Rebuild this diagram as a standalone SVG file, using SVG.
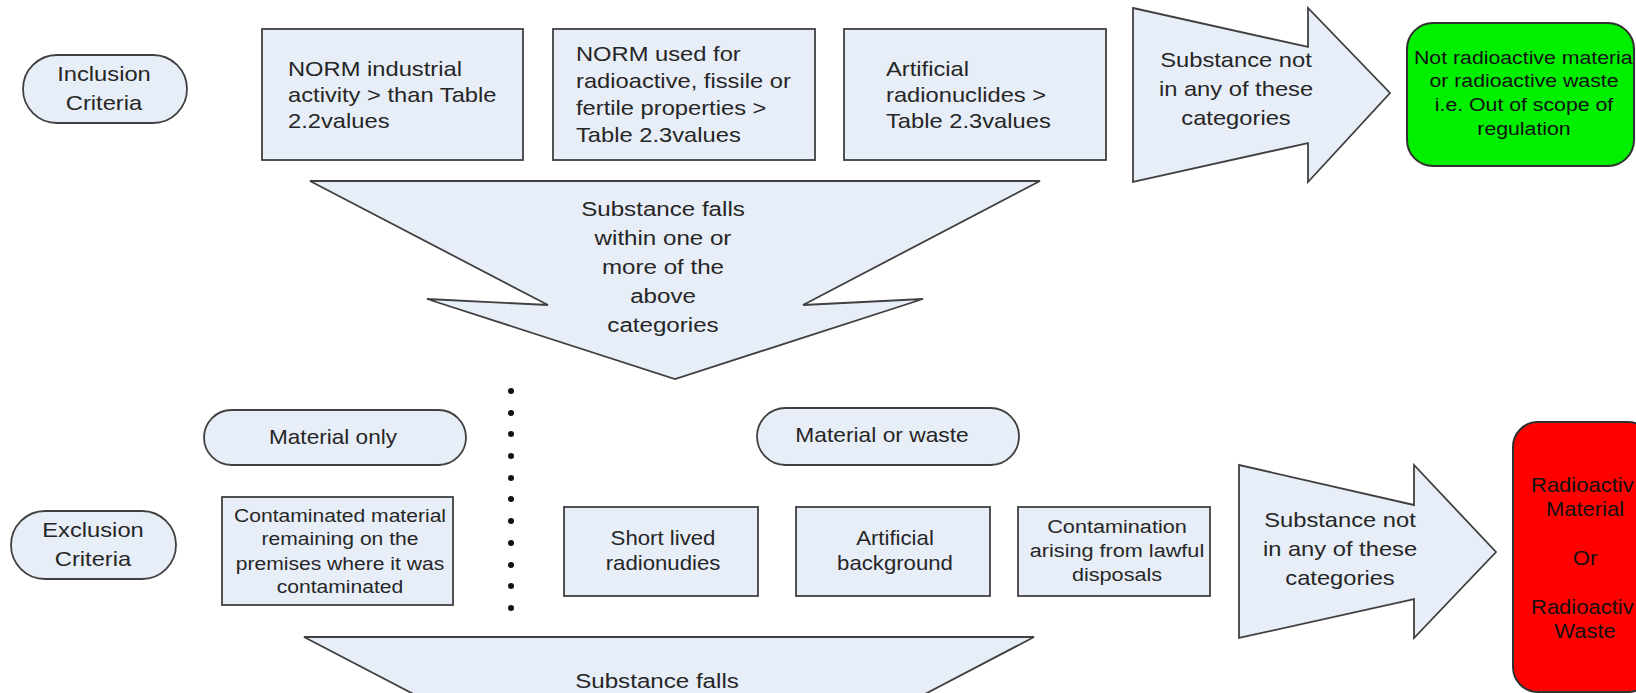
<svg xmlns="http://www.w3.org/2000/svg" width="1636" height="693" viewBox="0 0 1636 693">
<style>
.shape{fill:#e8eef8;stroke:#404040;stroke-width:1.8}
.green{fill:#00f000;stroke:#303030;stroke-width:2}
.red{fill:#ff0000;stroke:#303030;stroke-width:2}
.t{font-family:"Liberation Sans",Arial,sans-serif;font-size:21px;fill:#262626;text-anchor:middle}
.l{text-anchor:start}
.s19{font-size:19px}
.s20{font-size:20px}
.s18{font-size:18.5px}
.dk{fill:#111}
.dot{fill:#111}
</style>
<rect width="1636" height="693" fill="#ffffff"/>

<g id="inclusion-criteria">
<rect class="shape" x="23" y="55" width="164" height="68" rx="34"/>
<text class="t" transform="translate(104 0) scale(1.13 1)"><tspan x="0" y="81">Inclusion</tspan><tspan x="0" y="110">Criteria</tspan></text>
</g>

<g id="norm-industrial">
<rect class="shape" x="262" y="29" width="261" height="131"/>
<text class="t l" transform="translate(288 0) scale(1.13 1)"><tspan x="0" y="76">NORM industrial</tspan><tspan x="0" y="102">activity &gt; than Table</tspan><tspan x="0" y="128">2.2values</tspan></text>
</g>

<g id="norm-used">
<rect class="shape" x="553" y="29" width="262" height="131"/>
<text class="t l" transform="translate(576 0) scale(1.13 1)"><tspan x="0" y="61">NORM used for</tspan><tspan x="0" y="88">radioactive, fissile or</tspan><tspan x="0" y="115">fertile properties &gt;</tspan><tspan x="0" y="142">Table 2.3values</tspan></text>
</g>

<g id="artificial-radionuclides">
<rect class="shape" x="844" y="29" width="262" height="131"/>
<text class="t l" transform="translate(886 0) scale(1.13 1)"><tspan x="0" y="76">Artificial</tspan><tspan x="0" y="102">radionuclides &gt;</tspan><tspan x="0" y="128">Table 2.3values</tspan></text>
</g>

<g id="arrow-not-in-categories-top">
<polygon class="shape" points="1133,8 1308,47 1308,8 1390,93 1308,182 1308,143 1133,182"/>
<text class="t" transform="translate(1236 0) scale(1.13 1)"><tspan x="0" y="67">Substance not</tspan><tspan x="0" y="96">in any of these</tspan><tspan x="0" y="125">categories</tspan></text>
</g>

<g id="not-radioactive">
<rect class="green" x="1407" y="23" width="227" height="143" rx="26"/>
<text class="t s19 dk l" transform="translate(1414 0) scale(1.12 1)"><tspan x="0" y="64">Not radioactive materia</tspan></text>
<text class="t s19 dk" transform="translate(1524 0) scale(1.12 1)"><tspan x="0" y="87">or radioactive waste</tspan><tspan x="0" y="111">i.e. Out of scope of</tspan><tspan x="0" y="135">regulation</tspan></text>
</g>

<g id="arrow-falls-within-top">
<polygon class="shape" points="310,181 1040,181 803,305 923,299 675,379 427,299 548,305"/>
<text class="t" transform="translate(663 0) scale(1.15 1)"><tspan x="0" y="216">Substance falls</tspan><tspan x="0" y="245">within one or</tspan><tspan x="0" y="274">more of the</tspan><tspan x="0" y="303">above</tspan><tspan x="0" y="332">categories</tspan></text>
</g>

<g id="separator">
<circle class="dot" cx="511" cy="391" r="3"/>
<circle class="dot" cx="511" cy="413" r="3"/>
<circle class="dot" cx="511" cy="434" r="3"/>
<circle class="dot" cx="511" cy="456" r="3"/>
<circle class="dot" cx="511" cy="478" r="3"/>
<circle class="dot" cx="511" cy="499" r="3"/>
<circle class="dot" cx="511" cy="521" r="3"/>
<circle class="dot" cx="511" cy="543" r="3"/>
<circle class="dot" cx="511" cy="565" r="3"/>
<circle class="dot" cx="511" cy="586" r="3"/>
<circle class="dot" cx="511" cy="608" r="3"/>
</g>

<g id="material-only">
<rect class="shape" x="204" y="410" width="262" height="55" rx="27.5"/>
<text class="t s20" transform="translate(333 0) scale(1.13 1)"><tspan x="0" y="444">Material only</tspan></text>
</g>

<g id="material-or-waste">
<rect class="shape" x="757" y="408" width="262" height="57" rx="28.5"/>
<text class="t s20" transform="translate(882 0) scale(1.14 1)"><tspan x="0" y="442">Material or waste</tspan></text>
</g>

<g id="exclusion-criteria">
<rect class="shape" x="11" y="511" width="165" height="68" rx="34"/>
<text class="t" transform="translate(93 0) scale(1.13 1)"><tspan x="0" y="537">Exclusion</tspan><tspan x="0" y="566">Criteria</tspan></text>
</g>

<g id="contaminated-material">
<rect class="shape" x="222" y="497" width="231" height="108"/>
<text class="t s18" transform="translate(340 0) scale(1.14 1)"><tspan x="0" y="522">Contaminated material</tspan><tspan x="0" y="545">remaining on the</tspan><tspan x="0" y="570">premises where it was</tspan><tspan x="0" y="593">contaminated</tspan></text>
</g>

<g id="short-lived">
<rect class="shape" x="564" y="507" width="194" height="89"/>
<text class="t s20" transform="translate(663 0) scale(1.11 1)"><tspan x="0" y="545">Short lived</tspan><tspan x="0" y="570">radionudies</tspan></text>
</g>

<g id="artificial-background">
<rect class="shape" x="796" y="507" width="194" height="89"/>
<text class="t s20" transform="translate(895 0) scale(1.11 1)"><tspan x="0" y="545">Artificial</tspan><tspan x="0" y="570">background</tspan></text>
</g>

<g id="lawful-disposals">
<rect class="shape" x="1018" y="507" width="192" height="89"/>
<text class="t s19" transform="translate(1117 0) scale(1.14 1)"><tspan x="0" y="533">Contamination</tspan><tspan x="0" y="557">arising from lawful</tspan><tspan x="0" y="581">disposals</tspan></text>
</g>

<g id="arrow-not-in-categories-bottom">
<polygon class="shape" points="1239,465 1414,505 1414,465 1496,552 1414,638 1414,599 1239,638"/>
<text class="t" transform="translate(1340 0) scale(1.13 1)"><tspan x="0" y="527">Substance not</tspan><tspan x="0" y="556">in any of these</tspan><tspan x="0" y="585">categories</tspan></text>
</g>

<g id="radioactive-material-or-waste">
<rect class="red" x="1513" y="422" width="140" height="270" rx="25"/>
<text class="t s20 dk l" transform="translate(1531 0) scale(1.1 1)"><tspan x="0" y="492">Radioactiv</tspan><tspan x="0" y="614">Radioactiv</tspan></text>
<text class="t s20 dk" transform="translate(1585 0) scale(1.1 1)"><tspan x="0" y="516">Material</tspan><tspan x="0" y="565">Or</tspan><tspan x="0" y="638">Waste</tspan></text>
</g>

<g id="arrow-falls-within-bottom">
<polygon class="shape" points="304,637 1034,637 797,761 917,755 669,835 421,755 542,761"/>
<text class="t" transform="translate(657 0) scale(1.15 1)"><tspan x="0" y="688">Substance falls</tspan></text>
</g>

<g id="connectors"></g>
</svg>
